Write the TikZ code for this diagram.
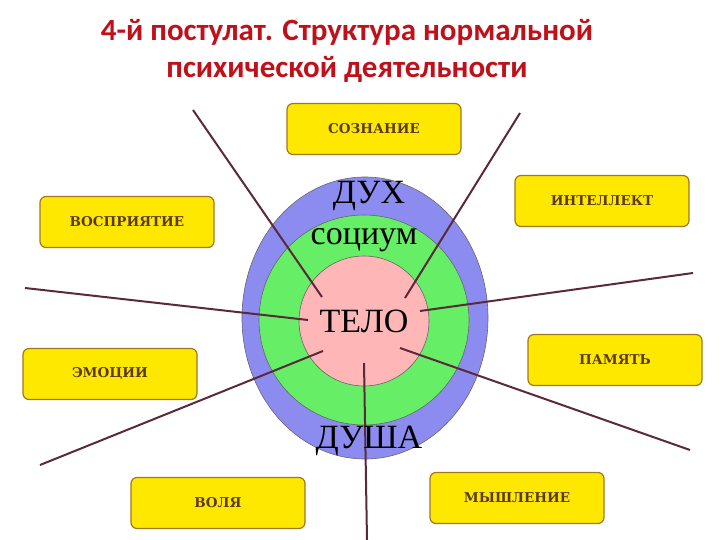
\documentclass[tikz,border=0pt]{standalone}
\usepackage{fontspec}
\usetikzlibrary{shapes.geometric}
\setmainfont{Liberation Serif}
\newfontfamily\titlefont{Carlito}
\newfontfamily\boxfont{DejaVu Serif}
\begin{document}
\begin{tikzpicture}[x=1pt,y=-1pt,
  lbox/.style={draw=boxborder,line width=1.2pt,fill=boxfill,rounded corners=6pt,minimum width=174pt,minimum height=51pt,inner sep=0pt,font=\boxfont\bfseries\fontsize{13.5}{14}\selectfont,text=boxtext},
  ray/.style={draw=raycol,line width=2pt},
  ring/.style={draw=black!60,line width=0.6pt}]
\definecolor{boxborder}{HTML}{A07820}
\definecolor{boxfill}{HTML}{FFE800}
\definecolor{boxtext}{HTML}{5A3A10}
\definecolor{raycol}{HTML}{5A2A3A}
\definecolor{titlered}{HTML}{C0101A}
\definecolor{outerc}{HTML}{8C8CF0}
\definecolor{greenc}{HTML}{66EE66}
\definecolor{pinkc}{HTML}{FFB6B6}
\useasboundingbox (0,0) rectangle (720,540);
\node[font=\titlefont\bfseries\fontsize{31}{37}\selectfont,text=titlered,align=center] (title) at (347,51) {4-й постулат. Структура нормальной\\психической деятельности};
\node[ring,fill=outerc,ellipse,minimum width=246pt,minimum height=282pt,inner sep=0pt] (outer) at (365,318) {};
\node[ring,fill=greenc,circle,minimum size=210pt,inner sep=0pt] (green) at (364,320) {};
\node[ring,fill=pinkc,circle,minimum size=130pt,inner sep=0pt] (pink) at (364,321) {};
\coordinate (e1) at (193,110); \coordinate (i1) at (322,297);
\coordinate (e2) at (520,113); \coordinate (i2) at (405,298);
\coordinate (e3) at (25,288);  \coordinate (i3) at (308,320);
\coordinate (e4) at (693,273); \coordinate (i4) at (420,311);
\coordinate (e5) at (40,465);  \coordinate (i5) at (323,351);
\coordinate (e6) at (690,450); \coordinate (i6) at (400,348);
\coordinate (e7) at (367,540); \coordinate (i7) at (364,363);
\foreach \k in {1,...,7} {\draw[ray] (e\k) -- (i\k);}
\node[font=\fontsize{34}{36}\selectfont] (dux) at (369,196) {ДУХ};
\node[font=\fontsize{34}{36}\selectfont] (soc) at (364,240) {социум};
\node[font=\fontsize{34}{36}\selectfont] (telo) at (364,321) {ТЕЛО};
\node[font=\fontsize{34}{36}\selectfont] (dusha) at (369,441) {ДУША};
\node[lbox] (b1) at (374,129) {СОЗНАНИЕ};
\node[lbox] (b2) at (602,201) {ИНТЕЛЛЕКТ};
\node[lbox] (b3) at (127,222) {ВОСПРИЯТИЕ};
\node[lbox] (b4) at (110,374) {ЭМОЦИИ};
\node[lbox] (b5) at (615,360) {ПАМЯТЬ};
\node[lbox] (b6) at (218,503) {ВОЛЯ};
\node[lbox] (b7) at (517,498) {МЫШЛЕНИЕ};
\end{tikzpicture}
\end{document}
